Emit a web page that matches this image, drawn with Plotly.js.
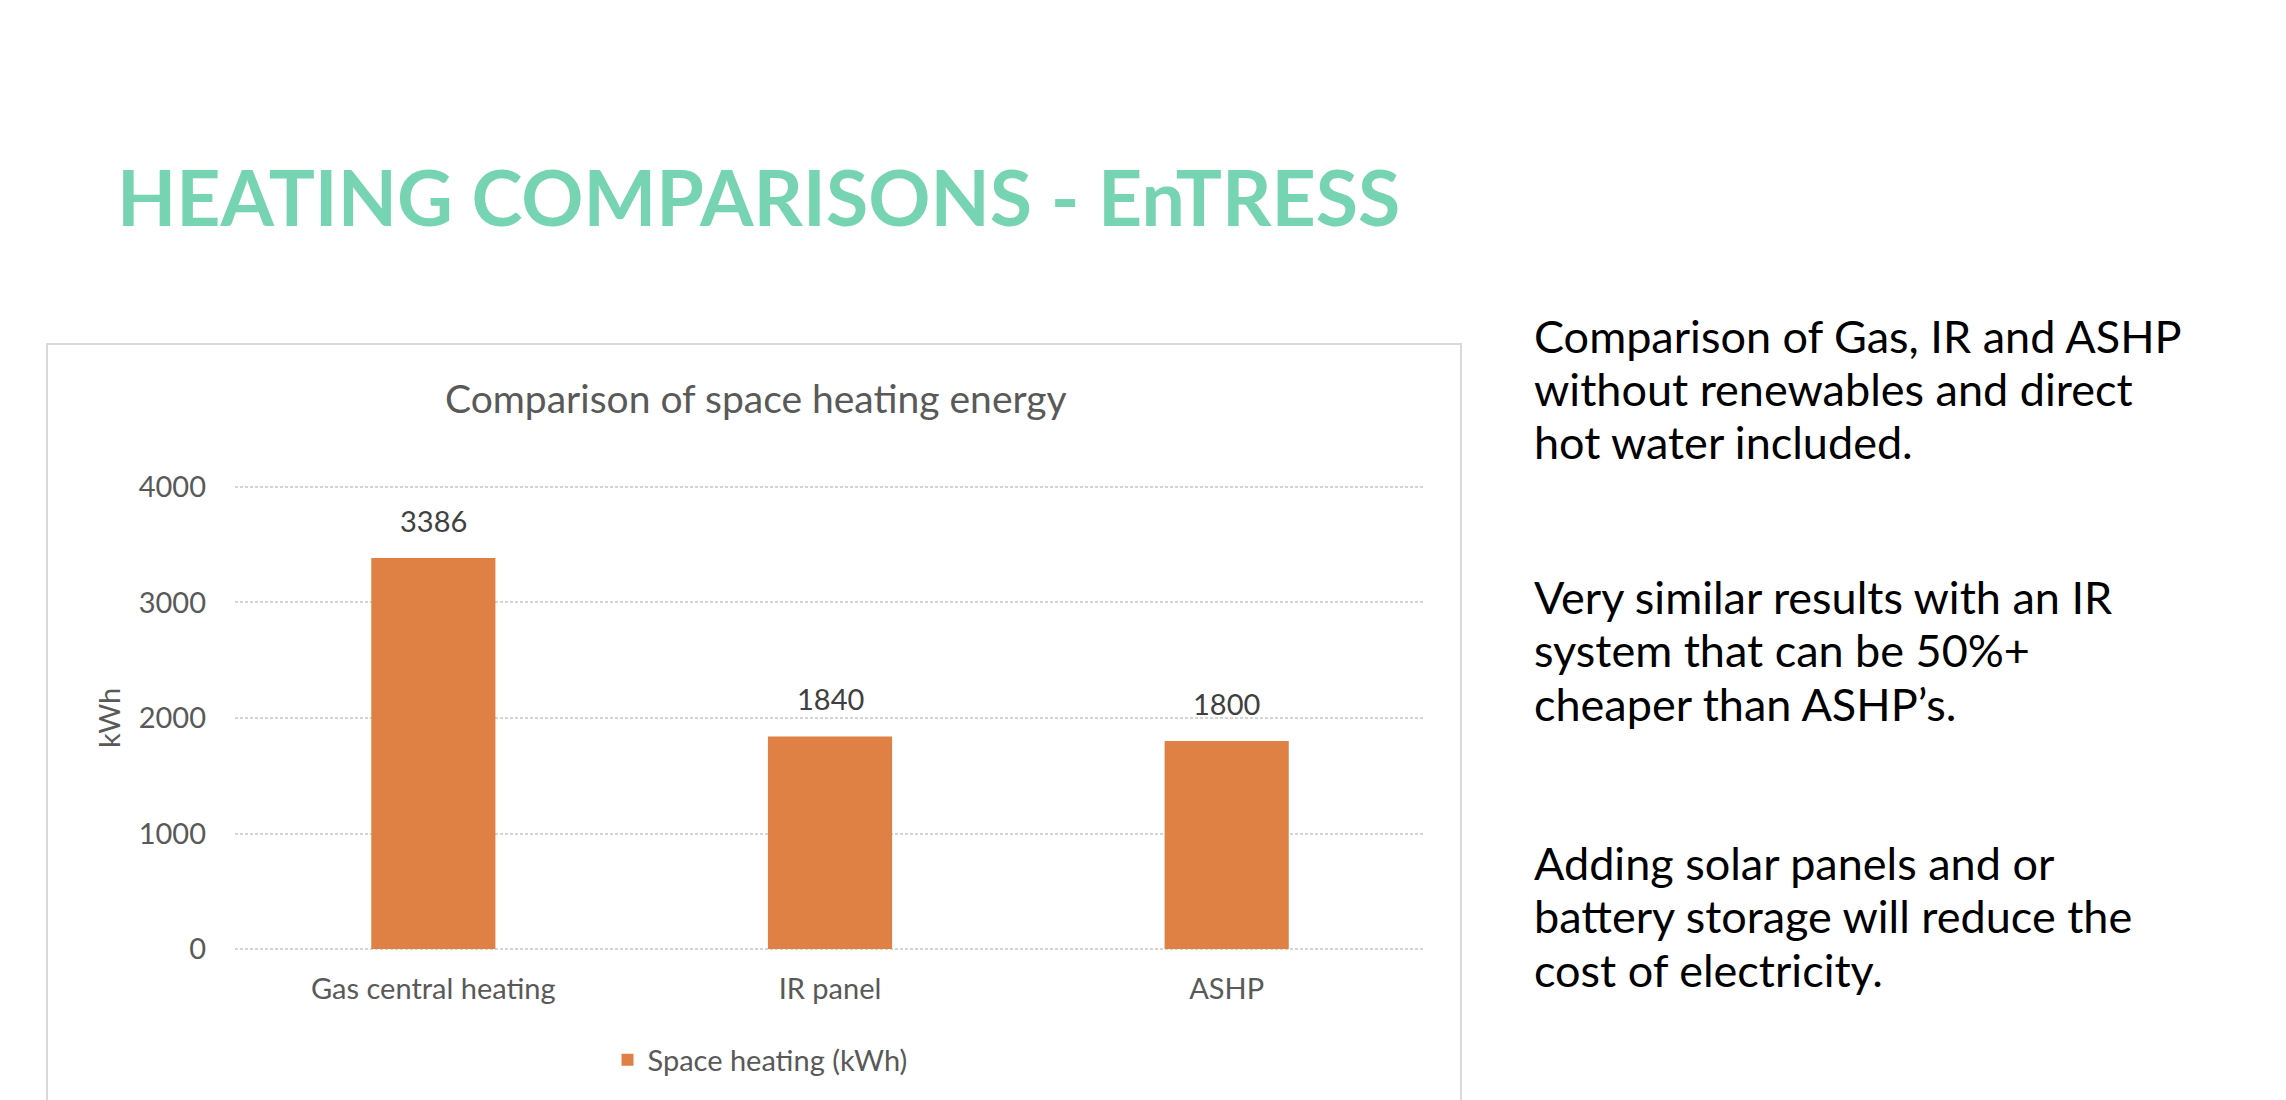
<!DOCTYPE html>
<html>
<head>
<meta charset="utf-8">
<script src="https://cdn.plot.ly/plotly-3.0.1.min.js"></script>
<style>
  html, body { margin: 0; padding: 0; background: #ffffff; }
  #plot { width: 2286px; height: 1100px; }
</style>
</head>
<body>
<div id="plot"></div>
<script>
var categories = ["Gas central heating", "IR panel", "ASHP"];
var heating = [3386, 1840, 1800];
var seriesName = "Space heating (kWh)";
var yTicks = [0, 1000, 2000, 3000, 4000];

var notes = [
    ["Comparison of Gas, IR and ASHP", "without renewables and direct", "hot water included."],
    ["Very similar results with an IR", "system that can be 50%+", "cheaper than ASHP\u2019s."],
    ["Adding solar panels and or", "battery storage will reduce the", "cost of electricity."]
];

var W = 2286, H = 1100;
function px(x) { return x / W; }
function py(y) { return (H - y) / H; }

var grey = "#595959";

var trace = {
    x: categories,
    y: heating,
    type: "bar",
    name: seriesName,
    marker: {color: "#DF8044"},
    hoverinfo: "none"
};

// value labels above each bar
var valueLabels = categories.map((c, i) => ({
    x: c, y: heating[i], xref: "x", yref: "y",
    text: String(heating[i]),
    showarrow: false, yanchor: "bottom", yshift: 18,
    font: {family: "Lato", size: 29, color: "#404040"}
}));

// side text, one annotation per line so the line spacing can be set
var noteY = [389, 650, 916];
var lineGap = 53.5;
var noteLabels = [];
notes.forEach((lines, i) => {
    lines.forEach((t, j) => {
        noteLabels.push({
            x: px(1532), y: py(noteY[i] + (j - 1) * lineGap), xref: "paper", yref: "paper",
            xanchor: "left", yanchor: "middle", align: "left",
            text: t, showarrow: false,
            font: {family: "Lato", size: 45, color: "#000000"}
        });
    });
});

var layout = {
    width: W, height: H,
    margin: {l: 0, r: 0, t: 0, b: 0},
    paper_bgcolor: "#ffffff",
    plot_bgcolor: "#ffffff",
    bargap: 0.687,
    title: {
        text: "HEATING COMPARISONS - EnTRESS",
        x: px(117), xanchor: "left", xref: "paper",
        y: py(199), yanchor: "middle", yref: "paper",
        font: {family: "Lato", size: 77, weight: 700, color: "#77D4B2"}
    },
    xaxis: {
        domain: [px(235), px(1425)],
        showgrid: false, zeroline: false, showline: false,
        ticks: "", ticklabelstandoff: 19,
        tickfont: {family: "Lato", size: 29, color: grey}
    },
    yaxis: {
        domain: [py(950.2), py(485.8)],
        range: [-10, 4010],
        tickvals: yTicks,
        showgrid: true, gridcolor: "#D4D4D4", gridwidth: 2, griddash: "3px,2px",
        zeroline: false, showline: false,
        ticks: "", ticklabelstandoff: 28,
        tickfont: {family: "Lato", size: 29, color: grey}
    },
    showlegend: true,
    legend: {
        orientation: "h",
        x: px(760), xanchor: "center",
        y: py(1060), yanchor: "middle",
        font: {family: "Lato", size: 29, color: grey},
        bgcolor: "rgba(0,0,0,0)"
    },
    shapes: [{
        type: "rect", xref: "paper", yref: "paper",
        x0: px(47), x1: px(1461), y0: py(1110), y1: py(344),
        line: {color: "#D9D9D9", width: 2},
        layer: "below"
    }],
    annotations: [
        {
            x: px(756), y: py(398), xref: "paper", yref: "paper",
            xanchor: "center", yanchor: "middle",
            text: "Comparison of space heating energy", showarrow: false,
            font: {family: "Lato", size: 39, color: grey}
        },
        {
            x: px(108), y: py(718), xref: "paper", yref: "paper",
            xanchor: "center", yanchor: "middle", textangle: -90,
            text: "kWh", showarrow: false,
            font: {family: "Lato", size: 29, color: grey}
        }
    ].concat(valueLabels, noteLabels)
};

Plotly.newPlot("plot", [trace], layout, {staticPlot: true});
</script>
</body>
</html>
